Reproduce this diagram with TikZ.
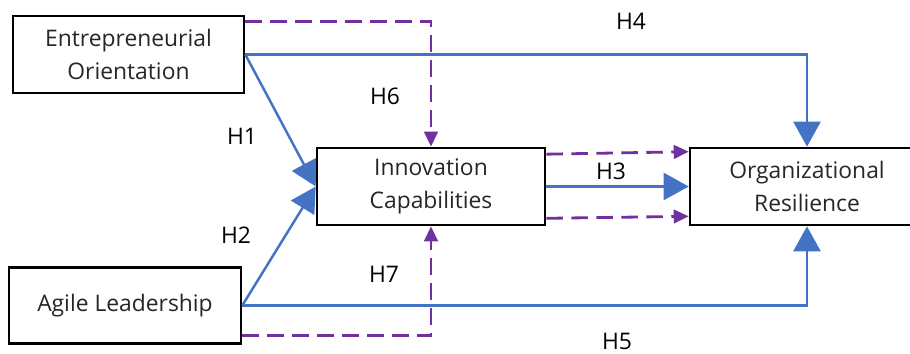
\documentclass[tikz,border=0pt]{standalone}
\usepackage{fontspec}
\setmainfont{Open Sans}
\usetikzlibrary{arrows.meta,positioning,calc}

\definecolor{pathblue}{HTML}{4472C4}
\definecolor{medpurple}{HTML}{7030A0}

\begin{document}
\begin{tikzpicture}[
      x=0.02cm, y=-0.02cm,
      construct/.style={draw, line width=1.5pt, align=center, font=\fontsize{13}{18.5}\selectfont, text=black!85, inner sep=0pt, minimum height=1.54cm},
      hyp/.style={font=\fontsize{13}{15}\selectfont, inner sep=0pt},
      direct/.style={pathblue, line width=1.4pt, -{Triangle[length=0.5cm, width=0.54cm]}},
      mediated/.style={medpurple, line width=1.6pt, dash pattern=on 0.33cm off 0.17cm, -{Triangle[length=0.3cm, width=0.27cm]}}
    ]
    \useasboundingbox (0,0) rectangle (910,354);

    \node[construct, minimum width=4.62cm] (eo) at (128.5,54.5) {Entrepreneurial\\Orientation};
    \node[construct, minimum width=4.56cm] (ic) at (431,186.5) {Innovation\\Capabilities};
    \node[construct, minimum width=4.68cm] (or) at (807,186.5) {Organizational\\Resilience};
    \node[construct, minimum width=4.64cm, minimum height=1.52cm] (al) at (125,305.5) {Agile Leadership};

    \draw[direct] (eo.east) -- (ic.west);
    \draw[direct] (al.east) -- (ic.west);
    \draw[direct] (ic.east) -- (or.west);
    \draw[direct] (eo.east) -| (or.north);
    \draw[direct] (al.east) -| (or.south);

    \draw[mediated] ([yshift=-0.13cm]eo.north east) -| (ic.north);
    \draw[mediated] ([yshift=0.18cm]al.south east) -| (ic.south);
    \draw[mediated] ([yshift=-0.15cm]ic.north east) -- ([yshift=-0.1cm]or.north west);
    \draw[mediated] ([yshift=0.16cm]ic.south east) -- ([yshift=0.2cm]or.south west);

    \node[hyp] (h1) at (242,136) {H1};
    \node[hyp] (h2) at (236,235) {H2};
    \node[hyp] (h3) at (611,171) {H3};
    \node[hyp] (h4) at (631,21) {H4};
    \node[hyp] (h5) at (617,341) {H5};
    \node[hyp] (h6) at (385,96) {H6};
    \node[hyp] (h7) at (384,274) {H7};
  \end{tikzpicture}
\end{document}
